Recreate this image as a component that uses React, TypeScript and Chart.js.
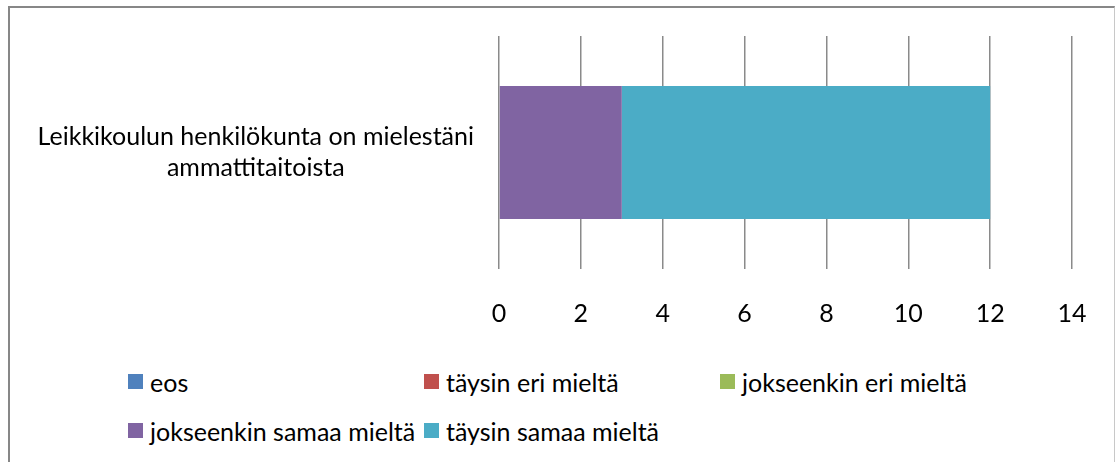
import React, { useEffect, useRef } from "react";
import { Chart, registerables } from "chart.js";

Chart.register(...registerables);

const categories = [["Leikkikoulun henkilökunta on mielestäni", "ammattitaitoista"]];
const seriesNames = [
  "eos",
  "täysin eri mieltä",
  "jokseenkin eri mieltä",
  "jokseenkin samaa mieltä",
  "täysin samaa mieltä",
];
const seriesColors = ["#4F81BD", "#C0504D", "#9BBB59", "#8064A2", "#4BACC6"];
const eos = [0];
const taysinEri = [0];
const jokseenkinEri = [0];
const jokseenkinSamaa = [3];
const taysinSamaa = [9];
const seriesValues = [eos, taysinEri, jokseenkinEri, jokseenkinSamaa, taysinSamaa];
const xMin = 0;
const xMax = 14;
const xStep = 2;

const FONT = "Lato, 'Open Sans', sans-serif";
const FONT_SIZE = 25;

export default function App() {
  const canvasRef = useRef<HTMLCanvasElement | null>(null);

  useEffect(() => {
    const canvas = canvasRef.current;
    if (!canvas) return;
    const chart = new Chart(canvas, {
      type: "bar",
      data: {
        labels: categories as any,
        datasets: seriesNames.map((name, i) => ({
          label: name,
          data: seriesValues[i],
          backgroundColor: seriesColors[i],
          borderWidth: 0,
          barPercentage: 0.571,
          categoryPercentage: 1,
        })),
      },
      options: {
        indexAxis: "y",
        responsive: false,
        maintainAspectRatio: false,
        animation: false,
        devicePixelRatio: 1,
        layout: { padding: { left: 12, top: 36, right: 43, bottom: 16 } },
        plugins: {
          legend: { display: false },
          tooltip: { enabled: false },
        },
        scales: {
          x: {
            stacked: true,
            min: xMin,
            max: xMax,
            ticks: {
              stepSize: xStep,
              color: "#000",
              font: { family: FONT, size: FONT_SIZE },
              padding: 30,
            },
            grid: { color: "#8a8a8a", lineWidth: 1.5, drawTicks: false },
            border: { display: false },
            afterFit: (s: any) => {
              s.height = 60;
              s.paddingLeft = 0;
              s.paddingRight = 0;
            },
          },
          y: {
            stacked: true,
            grid: { display: false, drawTicks: false },
            border: { display: false },
            ticks: {
              color: "#000",
              font: { family: FONT, size: FONT_SIZE, lineHeight: 1.24 },
              crossAlign: "center",
              padding: 25,
            },
            afterFit: (s: any) => {
              s.width = 487;
              s.paddingTop = 0;
              s.paddingBottom = 0;
            },
          },
        },
      },
    });
    return () => chart.destroy();
  }, []);

  return (
    <div style={{ position: "fixed", inset: 0, overflow: "hidden", background: "#fff" }}>
      <div
        style={{
          position: "absolute",
          left: 8,
          top: 6,
          width: 1107,
          height: 480,
          borderTop: "2px solid #878787",
          borderLeft: "2px solid #878787",
          borderRight: "1px solid #c8c8c8",
          boxSizing: "border-box",
        }}
      />
      <canvas
        ref={canvasRef}
        width={1115}
        height={345}
        style={{ position: "absolute", left: 0, top: 0, display: "block" }}
      />
      <div
        style={{
          position: "absolute",
          left: 128,
          top: 357,
          display: "grid",
          gridTemplateColumns: "repeat(3, 296px)",
          gridAutoRows: "49px",
          fontFamily: FONT,
          fontSize: FONT_SIZE,
          color: "#000",
        }}
      >
        {seriesNames.map((name, i) => (
          <div key={name} style={{ display: "flex", alignItems: "center", whiteSpace: "nowrap" }}>
            <span
              style={{
                display: "inline-block",
                width: 15,
                height: 15,
                background: seriesColors[i],
                marginRight: 7,
                flex: "0 0 auto",
              }}
            />
            <span>{name}</span>
          </div>
        ))}
      </div>
    </div>
  );
}
